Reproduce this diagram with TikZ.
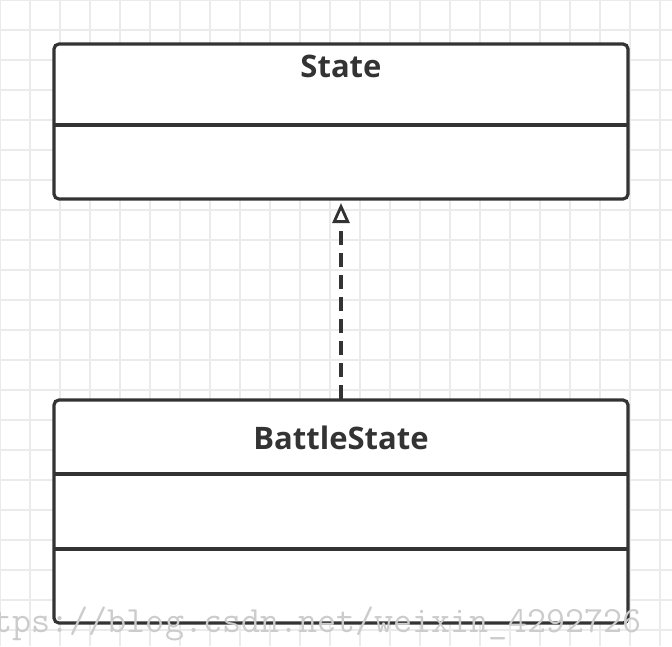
\documentclass[tikz,border=0pt]{standalone}
\usepackage{fontspec}
\setmainfont{Open Sans}
\usetikzlibrary{arrows.meta}
\definecolor{ink}{HTML}{333333}
\definecolor{gridc}{HTML}{EBEBEB}
\tikzset{
  cls/.style={draw=ink,line width=3.2pt,rounded corners=5pt,fill=white},
  sep/.style={draw=ink,line width=3.2pt},
  title/.style={font=\bfseries\fontsize{31}{36}\selectfont,text=ink},
  realize/.style={draw=ink,line width=3.2pt,dash pattern=on 14pt off 8pt,-{Triangle[open,length=20pt,width=17pt,line width=2.8pt]}}
}
\begin{document}
\begin{tikzpicture}[x=1pt,y=-1pt]
\useasboundingbox (0,0) rectangle (672,646);
\fill[white] (0,0) rectangle (672,646);
\draw[gridc,line width=1.2pt,step=30pt] (0,0) grid (672,646);
% State
\draw[cls] (54,44) rectangle (628,199);
\draw[sep] (54,125) -- (628,125);
\node[title] (state) at (341,66) {State};
\coordinate (stateb) at (341,203);
% BattleState
\draw[cls] (54,400) rectangle (628,623);
\draw[sep] (54,474) -- (628,474);
\draw[sep] (54,549) -- (628,549);
\node[title] (battle) at (341,438) {BattleState};
\coordinate (battlet) at (341,399);
\draw[realize] (battlet) -- (stateb);
\node[font=\ttfamily\fontsize{37}{40}\selectfont,text=gray!40,anchor=west] (wm) at (-10,624) {tps://blog.csdn.net/weixin\_4292726};
\end{tikzpicture}
\end{document}
